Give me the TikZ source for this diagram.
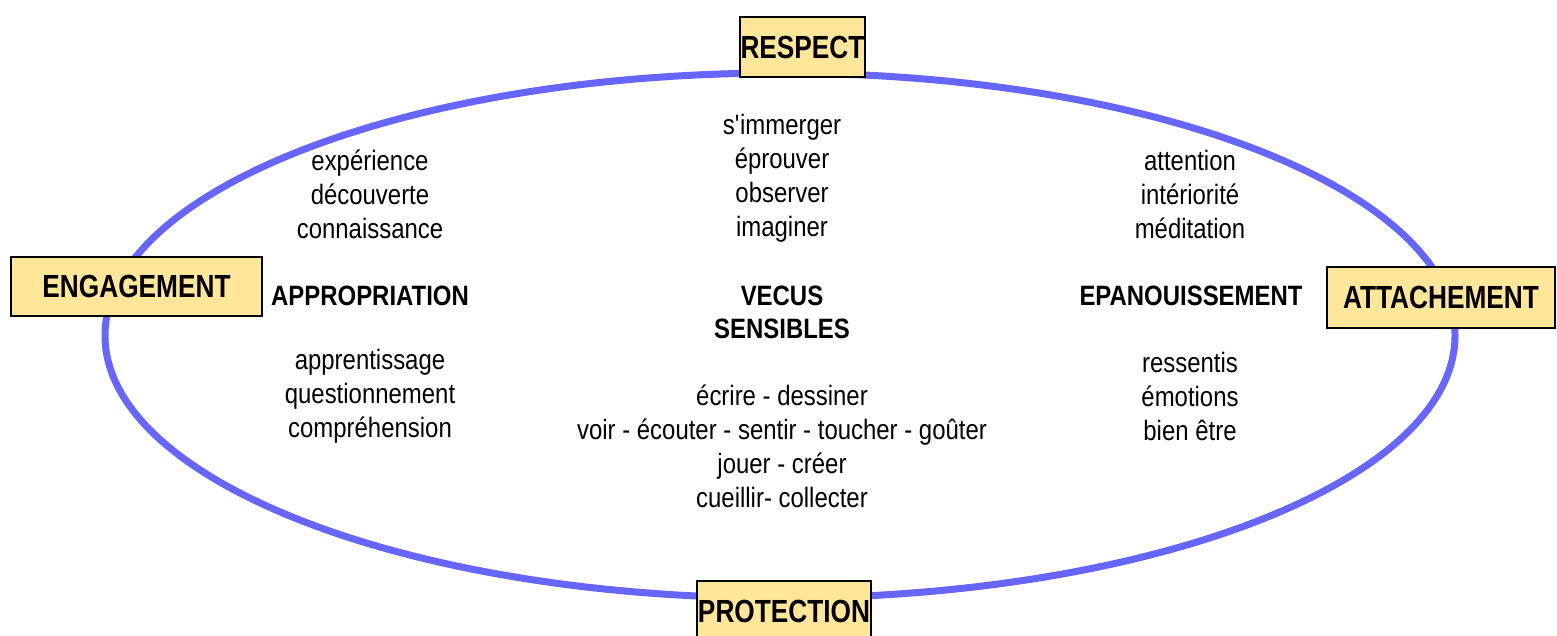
\documentclass[tikz,border=0pt]{standalone}
\usepackage{fontspec}
\setmainfont{Liberation Sans}[FakeStretch=0.82]
\newfontfamily\wordfont{Liberation Sans}[FakeStretch=0.855]
\definecolor{ringblue}{RGB}{102,102,255}
\definecolor{boxfill}{RGB}{255,230,153}
\tikzset{
  ring/.style={draw=ringblue, line width=3.5pt},
  keybox/.style={draw=black, line width=1pt, fill=boxfill, inner sep=0pt,
    font=\fontsize{16}{19}\selectfont\bfseries},
  words/.style={align=center, inner sep=0pt, font=\wordfont\fontsize{14}{17}\selectfont},
  title/.style={align=center, inner sep=0pt, font=\wordfont\fontsize{14}{16.5}\selectfont\bfseries},
}
\begin{document}
\begin{tikzpicture}[x=0.5pt, y=-0.5pt]
\useasboundingbox (0,0) rectangle (1557,636);
\draw[ring] (780,335.5) ellipse [x radius=337.5pt, y radius=131.25pt];
% boxes
\node[keybox, minimum width=62.5pt, minimum height=30pt] (respect) at (802.5,47) {RESPECT};
\node[keybox, minimum width=125.5pt, minimum height=29.5pt] (engagement) at (136.5,286.5) {ENGAGEMENT};
\node[keybox, minimum width=114pt, minimum height=30.5pt] (attachement) at (1441,297.5) {ATTACHEMENT};
\node[keybox, minimum width=87pt, minimum height=30pt] (protection) at (784,611) {PROTECTION};
% text blocks
\node[words] (lt) at (370,194) {expérience\\découverte\\connaissance};
\node[words] (ct) at (782,178) {s\textquotesingle immerger\\éprouver\\observer\\imaginer};
\node[words] (rt) at (1190,194) {attention\\intériorité\\méditation};
\node[title] (appro) at (370,296) {APPROPRIATION};
\node[title] (vecus) at (782,312.5) {VECUS\\SENSIBLES};
\node[title] (epan) at (1191,296) {EPANOUISSEMENT};
\node[words] (lb) at (370,396) {apprentissage\\questionnement\\compréhension};
\node[words] (cb) at (782,446.5) {écrire - dessiner\\voir - écouter - sentir - toucher - goûter\\jouer - créer\\cueillir- collecter};
\node[words] (rb) at (1190,396) {ressentis\\émotions\\bien être};
\end{tikzpicture}
\end{document}
